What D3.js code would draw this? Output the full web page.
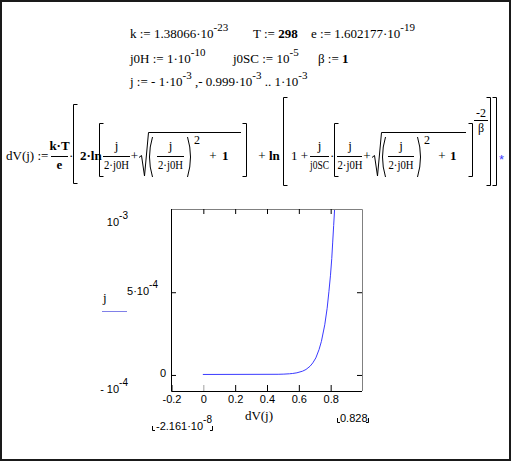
<!DOCTYPE html>
<html>
<head>
<meta charset="utf-8">
<script src="https://cdn.jsdelivr.net/npm/d3@7"></script>
<style>
  body { margin: 0; background: #fff; }
  text { white-space: pre; }
</style>
</head>
<body>
<div id="viz-container"></div>
<script>
// points: dV(j) (x) against j (y)
let dVvals = [-2.161e-8, 0.473, 0.509, 0.544, 0.565, 0.591, 0.627, 0.648, 0.674, 0.691,
              0.710, 0.730, 0.745, 0.766, 0.781, 0.792, 0.802, 0.810, 0.816, 0.822, 0.828];
let jvals  = [0, 1e-6, 2e-6, 4e-6, 6e-6, 1e-5, 2e-5, 3e-5, 5e-5, 7e-5,
              1e-4, 1.5e-4, 2e-4, 3e-4, 4e-4, 5e-4, 6e-4, 7e-4, 8e-4, 9e-4, 1e-3];

let xTicks = [-0.2, 0, 0.2, 0.4, 0.6, 0.8];
let xTickLabels = ["-0.2", "0", "0.2", "0.4", "0.6", "0.8"];
let yTicks = [0, 5e-4];
let xLimits = [-0.2, 1];
let yLimits = [-1e-4, 1e-3];

let serif = "'Liberation Serif', 'Times New Roman', serif";
let sans = "'Liberation Sans', Arial, sans-serif";

let viz = d3.select("#viz-container")
  .append("svg")
    .attr("width", 511)
    .attr("height", 461)
;

// outer frame
viz.append("rect")
  .attr("x", 1).attr("y", 1).attr("width", 509).attr("height", 459)
  .attr("fill", "none").attr("stroke", "#1a1a1a").attr("stroke-width", 2);

// text with superscripts; parts are strings or {t, sup, b, f}
function runs(x, y, parts, opts){
  opts = opts || {};
  let t = viz.append("text")
    .attr("x", x).attr("y", y)
    .attr("font-family", opts.f || serif)
    .attr("font-size", opts.size || 13)
    .attr("text-anchor", opts.anchor || "start")
    .attr("fill", "#000");
  if (opts.len) t.attr("textLength", opts.len).attr("lengthAdjust", "spacingAndGlyphs");
  let up = 0;
  parts.forEach(p => {
    if (typeof p == "string") p = {t: p};
    let shift = p.sup ? -7 : 0;
    let s = t.append("tspan").text(p.t).attr("dy", shift - up);
    up = shift;
    if (p.sup) s.attr("font-size", opts.supSize || 11);
    if (p.b) s.attr("font-weight", "bold");
    if (p.f) s.attr("font-family", p.f);
  });
  return t;
}

function line(d, color){
  viz.append("path").attr("d", d).attr("fill", "none")
    .attr("stroke", color || "#000").attr("stroke-width", 1);
}

// "[" when dir = 1, "]" when dir = -1
function bracket(x, y0, y1, dir){
  line(`M${x + 4 * dir},${y0}H${x}V${y1}H${x + 4 * dir}`);
}

function paren(x, y0, y1, dir){
  let m = (y0 + y1) / 2;
  line(`M${x},${y0}Q${x - 6 * dir},${m} ${x},${y1}`);
}

function frac(cx, x0, x1, num, den, yBar, b, denLen){
  runs(cx, yBar - 6, [{t: num, b: b}], {anchor: "middle"});
  runs(cx, yBar + 13, [{t: den, b: b}], {anchor: "middle", len: denLen, size: denLen ? 12.5 : 13});
  line(`M${x0},${yBar + 0.5}H${x1}`);
}

function radical(x, xEnd){
  line(`M${x},157.5L${x + 2.5},155.5L${x + 5.5},176L${x + 9.5},132.5H${xEnd}`);
}

// ---- definitions ----
runs(130, 38, ["k := 1.38066·10", {t: "-23", sup: true}]);
runs(253, 38, ["T := ", {t: "298", b: true}]);
runs(311, 38, ["e := 1.602177·10", {t: "-19", sup: true}]);

runs(130, 63, ["j0H := 1·10", {t: "-10", sup: true}]);
runs(233, 63, ["j0SC := 10", {t: "-5", sup: true}]);
runs(318, 63, ["β := ", {t: "1", b: true}]);

runs(130, 86, ["j := - 1·10", {t: "-3", sup: true}, " ,- 0.999·10", {t: "-3", sup: true},
               " .. 1·10", {t: "-3", sup: true}]);

// ---- dV(j) definition ----
let yb = 156;
runs(6, 160, ["dV(j) := "]);
frac(59.5, 51, 68, "k·T", "e", yb, true);
runs(69, 160, ["·"]);
bracket(73.5, 104.5, 183.5, 1);
runs(80, 160, [{t: "2·ln", b: true}]);
bracket(99.5, 123.5, 176.5, 1);
frac(116.5, 103, 130, "j", "2·j0H", yb, false, 25);
runs(134.5, 160, ["+"], {anchor: "middle"});
radical(139, 241);
paren(152.5, 137, 177, 1);
frac(170.5, 157, 184, "j", "2·j0H", yb, false, 25);
paren(187.5, 137, 177, -1);
runs(194, 144, ["2"], {size: 12});
runs(213, 160, ["+"], {anchor: "middle"});
runs(222, 160, [{t: "1", b: true}]);
bracket(246.5, 123.5, 176.5, -1);

runs(262, 160, ["+"], {anchor: "middle"});
runs(269, 160, [{t: "ln", b: true}]);
bracket(283.5, 97.5, 185.5, 1);
runs(291, 160, ["1 +"]);
frac(319.5, 310, 329, "j", "j0SC", yb, false, 19);
runs(330, 160, ["·"]);
bracket(334.5, 123.5, 176.5, 1);
frac(350, 337, 362, "j", "2·j0H", yb, false, 25);
runs(367, 160, ["+"], {anchor: "middle"});
radical(372, 466);
paren(385.5, 137, 177, 1);
frac(401, 388, 414, "j", "2·j0H", yb, false, 25);
paren(417.5, 137, 177, -1);
runs(424, 144, ["2"], {size: 12});
runs(442, 160, ["+"], {anchor: "middle"});
runs(450, 160, [{t: "1", b: true}]);
bracket(472.5, 123.5, 176.5, -1);
runs(481, 117, ["-2"], {anchor: "middle", size: 12});
line("M474,120.5H488");
runs(481, 132, ["β"], {anchor: "middle", size: 12});
bracket(490.5, 97.5, 185.5, -1);
bracket(496.5, 97.5, 185.5, -1);
viz.append("text").attr("x", 499).attr("y", 164).attr("font-family", sans)
  .attr("font-size", 13).attr("fill", "#3a3aff").text("*");

// ---- plot ----
let x = d3.scaleLinear().domain(xLimits).range([171, 362]);
let y = d3.scaleLinear().domain(yLimits).range([391, 209]);

viz.append("defs").append("clipPath").attr("id", "plotclip")
  .append("rect").attr("x", 171).attr("y", 209).attr("width", 191).attr("height", 182);

let pts = dVvals.map((v, i) => [v, jvals[i]]);
viz.append("path")
  .datum(pts)
  .attr("clip-path", "url(#plotclip)")
  .attr("fill", "none")
  .attr("stroke", "#3a3aff")
  .attr("stroke-width", 1)
  .attr("d", d3.line().x(d => x(d[0])).y(d => y(d[1])));

// frame: gray top/right, black left/bottom
line(`M171,209.5H362.5V391`, "#808080");
line(`M171.5,209V391.5H362`, "#000");

// bottom axis with labels
let axBottom = viz.append("g").attr("transform", "translate(0.5,391)")
  .call(d3.axisBottom(x).tickValues(xTicks).tickSize(-6).tickPadding(4)
    .tickFormat((d, i) => xTickLabels[i]));
axBottom.select(".domain").remove();
axBottom.selectAll("text").attr("font-family", sans).attr("font-size", 11).attr("fill", "#000");
axBottom.selectAll(".tick line").attr("stroke", d => d === 0 ? "#a0a0a0" : "#000");

// top ticks
let axTop = viz.append("g").attr("transform", "translate(0.5,209)")
  .call(d3.axisTop(x).tickValues(xTicks.slice(1)).tickSize(-5).tickFormat(""));
axTop.select(".domain").remove();

// left / right ticks
let axLeft = viz.append("g").attr("transform", "translate(171,0.5)")
  .call(d3.axisLeft(y).tickValues(yTicks).tickSize(-5).tickFormat(""));
axLeft.select(".domain").remove();
let axRight = viz.append("g").attr("transform", "translate(362,0.5)")
  .call(d3.axisRight(y).tickValues(yTicks).tickSize(-5).tickFormat(""));
axRight.select(".domain").remove();

// y labels
let lab = {f: sans, anchor: "end", size: 11, supSize: 10};
runs(128, y(yLimits[1]) + 17, ["10", {t: "-3", sup: true}], lab);
runs(158, y(yTicks[1]) + 3, ["5·10", {t: "-4", sup: true}], lab);
runs(166, y(yTicks[0]) + 3, ["0"], lab);
runs(128, y(yLimits[0]) + 2, ["- 10", {t: "-4", sup: true}], lab);

// y axis name with its trace sample
runs(103, 302, ["j"]);
line("M102,311.5H127", "#8080e8");

// x axis name and data extremes
runs(259, 420, ["dV(j)"], {anchor: "middle"});
runs(156, 430, ["-2.161·10", {t: "-8", sup: true}], {f: sans, size: 11, supSize: 10});
runs(340, 422, ["0.828"], {f: sans, size: 11});
line("M152.5,426V430.5H155");
line("M212.5,426V430.5H210");
line("M337.5,418V422.5H340");
line("M368.5,418V422.5H366");
</script>
</body>
</html>
